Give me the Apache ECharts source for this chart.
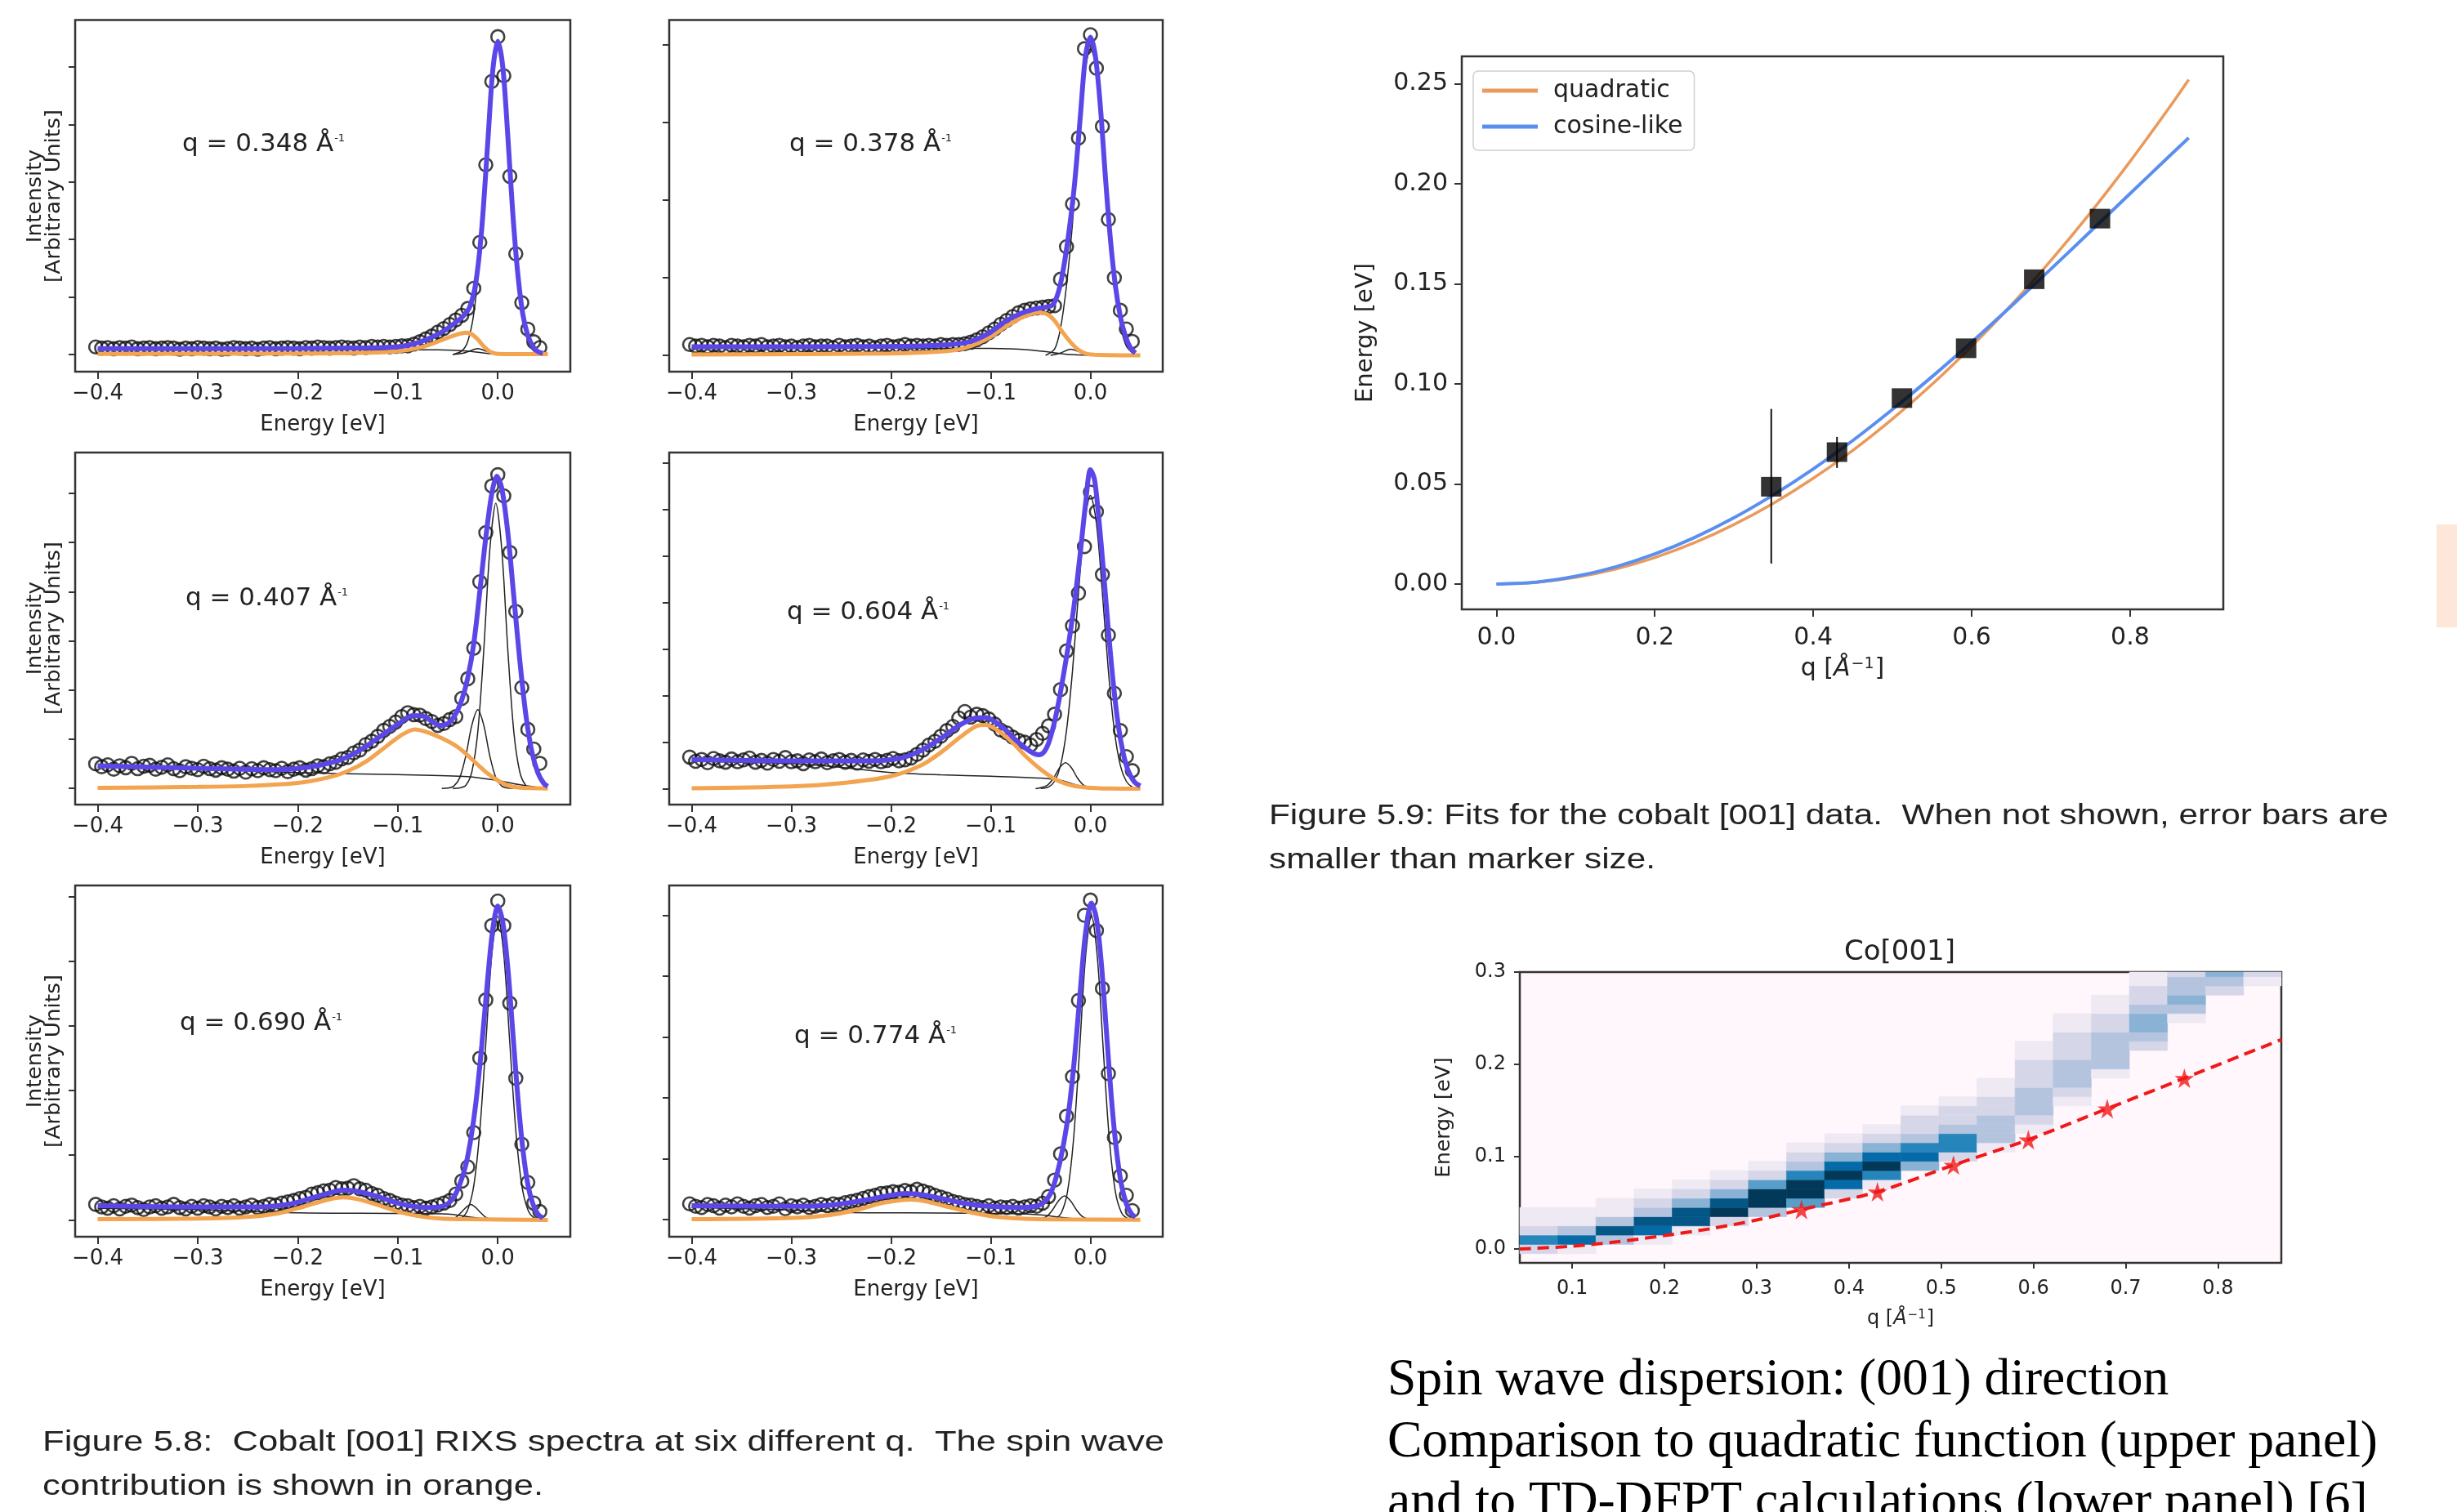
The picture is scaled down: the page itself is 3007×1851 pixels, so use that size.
<!DOCTYPE html>
<html>
<head>
<meta charset="utf-8">
<script src="https://cdn.jsdelivr.net/npm/echarts@6/dist/echarts.min.js"></script>
<style>
  html, body { margin: 0; background: #fff; }
  #chart { width: 3007px; height: 1851px; }
</style>
</head>
<body>
<div id="chart"></div>
<script>
// ---- Fig 5.8: RIXS spectra, six q values ----
const qLabels = ['0.348', '0.378', '0.407', '0.604', '0.690', '0.774']
const energyTicks = [-0.4, -0.3, -0.2, -0.1, 0.0]
// measured points are sampled every 6 meV starting at -0.402 eV
const ptStart = -0.402
const ptStep = 0.006
const yBottom = [-3.0, -2.1, -3.3, -3.4, -2.6, -2.8]
const yTop = [58.2, 43.2, 68.3, 72.2, 51.7, 54.9]
const yTicks = [
  [0, 10, 20, 30, 40, 50],
  [0, 10, 20, 30, 40],
  [0, 10, 20, 30, 40, 50, 60],
  [0, 10, 20, 30, 40, 50, 60, 70],
  [0, 10, 20, 30, 40, 50],
  [0, 10, 20, 30, 40, 50]
]

const points = [
  [1.3,1.1,1.2,1.0,1.2,1.1,1.3,1.0,1.1,1.2, 1.0,1.1,1.2,1.1,0.9,1.1,1.0,1.2,1.1,1.0,
   1.1,0.9,1.0,1.2,1.1,1.0,1.1,0.9,1.1,1.2, 1.0,1.1,1.2,1.1,1.0,1.2,1.1,1.3,1.2,1.1,
   1.2,1.3,1.2,1.1,1.3,1.2,1.4,1.3,1.4,1.3, 1.4,1.5,
   1.5,1.8,2.2,2.7,3.2,3.9,4.5,5.2,6.0,6.8,8.0,11.5,19.5,33,47.5,55.3,48.5,31,17.5,9,4.4,2.2,1.2],
  [1.4,1.2,1.3,1.1,1.3,1.2,1.0,1.3,1.2,1.1, 1.3,1.2,1.4,1.1,1.2,1.3,1.1,1.2,1.0,1.2,
   1.3,1.1,1.2,1.2,1.0,1.3,1.1,1.2,1.3,1.1, 1.2,1.0,1.2,1.3,1.1,1.2,1.4,1.2,1.3,1.2,
   1.3,1.2,1.4,1.3,1.4,
   1.4,1.5,1.7,2.0,2.4,2.9,3.4,4.0,4.5,5.0,5.5,5.8,6.0,6.1,6.2,6.3,6.4,9.8,14.0,19.5,28,39.5,41.3,37,29.5,17.5,10,5.8,3.4,1.8],
  [5.0,4.4,4.8,3.9,4.6,4.2,5.1,4.0,4.5,4.7, 3.9,4.3,4.8,4.0,3.6,4.4,4.1,3.8,4.5,4.0,
   3.7,4.2,3.9,3.5,4.1,3.3,4.0,3.6,4.2,3.8, 3.6,4.1,3.4,3.9,4.2,3.7,4.0,
   4.6,4.4,5.0,5.3,6.0,6.3,7.2,7.8,8.9,9.6,10.6,11.8,12.6,13.5,14.6,15.4,15.0,14.9,14.2,13.6,12.8,13.2,14.0,14.6,
   18.3,22.3,28.5,42,52,61.5,63.8,59.5,48,36,20.5,12.0,8.0,5.1],
  [6.8,5.9,6.3,5.6,6.5,6.0,5.7,6.4,5.8,6.2, 6.6,5.7,6.1,5.5,6.3,5.9,6.7,5.8,6.0,5.4,
   6.2,5.8,6.4,5.6,6.0,6.3,5.7,6.1,5.5,6.2, 5.9,6.3,5.8,6.1,6.5,6.0,6.2,6.6,
   7.4,8.3,9.4,10.2,11.3,12.5,13.4,15.2,16.6,15.4,16.0,15.7,15.0,13.9,12.6,12.0,11.1,10.4,10.0,9.4,10.6,11.9,13.5,
   16.0,21.3,29.6,35,42,52,63.7,59.5,46.0,33.0,20.5,12.5,6.9,3.9],
  [2.4,2.0,1.8,2.2,1.7,2.1,2.3,1.9,1.6,2.0, 2.2,1.8,2.0,2.4,1.9,1.7,2.1,1.8,2.2,2.0,
   1.7,2.1,1.9,2.2,1.8,2.0,2.3,1.9,2.1,
   2.4,2.3,2.6,2.8,3.0,3.3,3.5,4.0,4.2,4.5,4.6,5.0,4.8,4.9,5.3,4.8,4.6,4.1,3.8,3.3,3.0,2.6,2.3,2.2,1.9,2.1,1.8,2.0,2.3,2.6,3.0,4.0,
   6.0,8.2,13.5,25,34,45.5,49.3,45.5,33.5,21.9,11.7,5.8,2.6,1.3],
  [2.6,2.2,2.0,2.5,2.3,1.9,2.4,2.1,2.6,2.2, 1.9,2.3,2.5,2.0,2.2,2.6,1.8,2.3,2.1,2.4,
   2.0,2.2,2.5,
   2.3,2.6,2.5,2.8,3.0,3.2,3.5,3.8,4.0,4.3,4.4,4.6,4.5,4.8,4.6,5.0,4.7,4.4,4.0,3.7,3.4,3.0,2.8,2.5,2.4,2.2,2.0,2.3,1.9,2.1,2.0,2.2,1.9,2.1,2.3,2.2,2.7,3.8,
   6.5,10.8,17,23.5,36,50,52.5,47.5,38,24,13.5,7.2,4.0,1.5]
]

// total fit (violet)
const fitCurves = [
  [[-0.4,1.0],[-0.2,1.05],[-0.13,1.15],[-0.1,1.35],[-0.085,1.8],[-0.07,2.7],[-0.055,4.0],[-0.045,5.2],[-0.035,6.6],[-0.028,8.3],[-0.022,12.5],[-0.016,22],[-0.01,37],[-0.005,49.5],[0,54.5],[0.005,50],[0.01,38],[0.015,24.5],[0.02,14],[0.025,7],[0.03,3.3],[0.035,1.4],[0.04,0.5],[0.045,0.2]],
  [[-0.4,1.1],[-0.2,1.15],[-0.14,1.4],[-0.12,1.8],[-0.1,3.0],[-0.085,4.4],[-0.07,5.4],[-0.055,6.0],[-0.045,6.2],[-0.038,6.5],[-0.033,7.8],[-0.028,10.5],[-0.022,15.5],[-0.016,22],[-0.01,31],[-0.005,38.5],[0,41],[0.005,38.5],[0.01,32],[0.015,23],[0.02,15],[0.025,9],[0.03,5],[0.035,2.5],[0.04,1.0],[0.045,0.3]],
  [[-0.4,4.6],[-0.3,4.1],[-0.22,3.8],[-0.19,4.3],[-0.16,5.6],[-0.14,7.5],[-0.12,10.2],[-0.1,13.0],[-0.085,14.8],[-0.075,14.7],[-0.065,13.5],[-0.058,12.8],[-0.05,13.2],[-0.043,14.8],[-0.036,18],[-0.03,22.5],[-0.024,29.5],[-0.018,40],[-0.012,51],[-0.006,60],[-0.001,63.5],[0.004,61],[0.01,52],[0.016,39],[0.022,26],[0.028,15],[0.034,7.5],[0.04,3.2],[0.046,1.0],[0.05,0.4]],
  [[-0.4,6.3],[-0.3,6.0],[-0.22,6.0],[-0.19,6.6],[-0.17,8.2],[-0.15,10.8],[-0.13,13.8],[-0.115,15.2],[-0.105,15.3],[-0.095,14.3],[-0.085,12.6],[-0.075,10.5],[-0.065,8.7],[-0.057,7.6],[-0.052,7.3],[-0.047,7.8],[-0.042,9.8],[-0.037,13.5],[-0.032,18.5],[-0.027,24.5],[-0.022,31],[-0.016,40],[-0.01,51],[-0.005,61],[0,68.5],[0.004,66.5],[0.008,59],[0.013,47],[0.018,34],[0.023,22.5],[0.028,13.5],[0.033,7.5],[0.038,3.8],[0.044,1.5],[0.05,0.6]],
  [[-0.4,2.2],[-0.3,2.0],[-0.24,2.0],[-0.21,2.4],[-0.19,3.2],[-0.17,4.1],[-0.155,4.6],[-0.14,4.4],[-0.12,3.6],[-0.1,2.6],[-0.085,2.1],[-0.07,1.9],[-0.058,2.0],[-0.05,2.5],[-0.044,3.5],[-0.038,5.5],[-0.032,8.5],[-0.027,12.5],[-0.022,18],[-0.016,27],[-0.01,37.5],[-0.005,45],[0,48.5],[0.005,46],[0.01,39],[0.015,29],[0.02,19],[0.025,11],[0.03,5.5],[0.035,2.5],[0.04,0.9],[0.045,0.3]],
  [[-0.4,2.3],[-0.3,2.2],[-0.26,2.4],[-0.23,3.1],[-0.2,4.0],[-0.185,4.3],[-0.17,4.1],[-0.15,3.5],[-0.13,2.8],[-0.11,2.3],[-0.09,2.1],[-0.07,2.0],[-0.055,2.2],[-0.047,2.8],[-0.04,4.3],[-0.034,7.2],[-0.028,11.5],[-0.022,17.5],[-0.016,26.5],[-0.01,38],[-0.005,47],[0.001,52],[0.006,49.5],[0.011,42],[0.016,31],[0.021,20],[0.026,11.5],[0.031,5.8],[0.036,2.6],[0.041,1.0],[0.045,0.4]]
]

// spin wave contribution (orange)
const spinCurves = [
  [[-0.4,0.1],[-0.2,0.15],[-0.13,0.3],[-0.1,0.55],[-0.08,1.1],[-0.065,1.9],[-0.05,2.9],[-0.04,3.5],[-0.032,3.8],[-0.026,3.5],[-0.02,2.6],[-0.014,1.4],[-0.008,0.5],[0,0.1],[0.05,0.05]],
  [[-0.4,0.1],[-0.2,0.25],[-0.14,0.6],[-0.12,1.2],[-0.1,2.4],[-0.085,3.7],[-0.07,4.8],[-0.058,5.4],[-0.05,5.5],[-0.042,5.2],[-0.035,4.3],[-0.028,3.0],[-0.02,1.7],[-0.012,0.7],[-0.004,0.2],[0.01,0.05],[0.05,0]],
  [[-0.4,0.1],[-0.3,0.3],[-0.25,0.5],[-0.2,1.1],[-0.17,2.2],[-0.15,3.5],[-0.13,5.7],[-0.11,8.8],[-0.095,11.0],[-0.083,12.0],[-0.07,11.4],[-0.055,10.1],[-0.04,8.4],[-0.03,6.7],[-0.02,4.8],[-0.01,3.0],[0,1.6],[0.01,0.6],[0.02,0.2],[0.05,0]],
  [[-0.4,0.1],[-0.3,0.5],[-0.25,1.2],[-0.2,2.7],[-0.17,5.0],[-0.15,7.8],[-0.13,11.2],[-0.115,13.4],[-0.105,13.7],[-0.095,12.8],[-0.08,10.3],[-0.065,7.0],[-0.05,4.2],[-0.035,2.0],[-0.02,0.8],[-0.005,0.3],[0.02,0.05],[0.05,0]],
  [[-0.4,0.1],[-0.3,0.2],[-0.25,0.45],[-0.22,1.0],[-0.2,1.8],[-0.18,2.7],[-0.165,3.3],[-0.155,3.5],[-0.14,3.2],[-0.12,2.3],[-0.1,1.3],[-0.08,0.6],[-0.06,0.25],[-0.03,0.1],[0.05,0]],
  [[-0.4,0.1],[-0.3,0.3],[-0.26,0.8],[-0.23,1.8],[-0.21,2.7],[-0.19,3.2],[-0.18,3.3],[-0.165,3.0],[-0.145,2.2],[-0.12,1.2],[-0.1,0.6],[-0.07,0.2],[-0.03,0.05],[0.05,0]]
]

// elastic line, low-energy peak and background (thin black)
const elasticCurves = [
  [[-0.045,0],[-0.036,0.6],[-0.03,2.3],[-0.024,7.1],[-0.018,17.3],[-0.012,32.8],[-0.006,48],[0,54.5],[0.006,48],[0.012,32.8],[0.018,17.3],[0.024,7.1],[0.03,2.3],[0.036,0.6],[0.045,0]],
  [[-0.045,0],[-0.036,0.8],[-0.03,3.5],[-0.024,9],[-0.018,17],[-0.012,27],[-0.006,36],[0,39.5],[0.006,37],[0.012,29],[0.018,18],[0.024,9.5],[0.03,4],[0.036,1.2],[0.045,0]],
  [[-0.045,0],[-0.038,0.1],[-0.032,0.6],[-0.026,3.3],[-0.02,11.5],[-0.014,28.2],[-0.008,48.5],[-0.002,58],[0.004,48.5],[0.01,28.2],[0.016,11.5],[0.022,3.3],[0.028,0.6],[0.034,0.1],[0.04,0]],
  [[-0.05,0.05],[-0.042,0.4],[-0.036,1.6],[-0.03,5.0],[-0.024,12.5],[-0.018,25.3],[-0.012,42],[-0.006,57],[0,63],[0.006,57],[0.012,42],[0.018,25.3],[0.024,12.5],[0.03,5.0],[0.036,1.6],[0.042,0.4],[0.05,0.05]],
  [[-0.045,0.02],[-0.036,0.35],[-0.03,1.6],[-0.024,5.3],[-0.018,13.8],[-0.012,27.3],[-0.006,41],[0,47],[0.006,41],[0.012,27.3],[0.018,13.8],[0.024,5.3],[0.03,1.6],[0.036,0.35],[0.045,0.02]],
  [[-0.045,0],[-0.035,0.24],[-0.029,1.2],[-0.023,4.6],[-0.017,13.1],[-0.011,27.6],[-0.005,43],[0.001,50],[0.007,43],[0.013,27.6],[0.019,13.1],[0.025,4.6],[0.031,1.2],[0.037,0.24],[0.045,0]]
]
const lowPeaks = [
  [[-0.045,0],[-0.035,0.2],[-0.028,0.6],[-0.02,1.0],[-0.012,0.6],[-0.005,0.2],[0.005,0]],
  [[-0.04,0],[-0.03,0.3],[-0.02,0.8],[-0.012,0.5],[-0.004,0.1],[0.005,0]],
  [[-0.056,0],[-0.05,0.06],[-0.044,0.45],[-0.038,2.2],[-0.032,6.6],[-0.026,12.8],[-0.02,16],[-0.014,12.8],[-0.008,6.6],[-0.002,2.2],[0.004,0.45],[0.01,0.06],[0.016,0]],
  [[-0.055,0.04],[-0.049,0.3],[-0.043,0.8],[-0.037,2.3],[-0.031,4.5],[-0.025,5.6],[-0.019,4.5],[-0.013,2.3],[-0.007,0.8],[-0.001,0.3],[0.005,0.04]],
  [[-0.05,0.04],[-0.043,0.3],[-0.037,1.1],[-0.032,1.9],[-0.027,2.4],[-0.022,1.9],[-0.017,1.1],[-0.011,0.3],[-0.004,0.04]],
  [[-0.056,0.02],[-0.05,0.1],[-0.044,0.5],[-0.038,1.6],[-0.032,3.1],[-0.026,3.9],[-0.02,3.1],[-0.014,1.6],[-0.008,0.5],[-0.002,0.1],[0.004,0.02]]
]
const bgCurves = [
  [[-0.4,0.85],[-0.06,0.8],[-0.03,0.6],[-0.01,0.15],[0,0]],
  [[-0.4,0.95],[-0.1,0.9],[-0.06,0.7],[-0.04,0.4],[-0.02,0.1],[0,0]],
  [[-0.4,4.3],[-0.3,4.0],[-0.2,3.2],[-0.1,2.8],[-0.03,2.4],[0,1.6],[0.02,0.8],[0.04,0.2]],
  [[-0.4,5.9],[-0.3,5.4],[-0.25,4.6],[-0.2,3.5],[-0.15,3.0],[-0.1,2.7],[-0.05,2.3],[-0.03,1.8],[-0.01,0.6],[0.01,0.1],[0.04,0]],
  [[-0.4,1.8],[-0.3,1.6],[-0.2,1.1],[-0.1,1.0],[-0.05,0.9],[-0.03,0.5],[-0.01,0.1],[0.01,0]],
  [[-0.4,2.0],[-0.3,1.6],[-0.25,1.2],[-0.15,1.1],[-0.08,1.0],[-0.05,0.8],[-0.03,0.4],[-0.01,0.1],[0.01,0]]
]

// ---- Fig 5.9: dispersion with fits ----
const dispQ = [0, 0.05, 0.1, 0.15, 0.2, 0.25, 0.3, 0.35, 0.4, 0.45, 0.5, 0.55, 0.6, 0.65, 0.7, 0.75, 0.8, 0.85, 0.874]
const quadE = [0, 0.0008, 0.0033, 0.0074, 0.0132, 0.0206, 0.0297, 0.0404, 0.0528, 0.0668, 0.0825, 0.0998, 0.1188, 0.1394, 0.1617, 0.1856, 0.2112, 0.2384, 0.2521]
const cosE = [0, 0.0009, 0.0038, 0.0085, 0.0150, 0.0232, 0.0331, 0.0446, 0.0575, 0.0717, 0.0872, 0.1036, 0.1209, 0.1389, 0.1574, 0.1762, 0.1951, 0.2140, 0.2230]
const markQ = [0.347, 0.430, 0.512, 0.593, 0.679, 0.762]
const markE = [0.0486, 0.0659, 0.0929, 0.1178, 0.1523, 0.1826]
const errLo = [0.0102, 0.058, null, null, null, null]
const errHi = [0.0875, 0.0735, null, null, null, null]
const dispQTicks = [0, 0.2, 0.4, 0.6, 0.8]
const dispETicks = [0, 0.05, 0.1, 0.15, 0.2, 0.25]

// ---- Co[001] map vs TD-DFPT ----
const heatEdges = [0.0432, 0.0845, 0.1258, 0.1671, 0.2084, 0.2497, 0.2910, 0.3323, 0.3736, 0.4149, 0.4562,
  0.4975, 0.5388, 0.5801, 0.6214, 0.6627, 0.7040, 0.7453, 0.7866, 0.8279, 0.8692]
const heatStep = 0.01
const heatFrom = [0.00, 0.00, 0.01, 0.01, 0.02, 0.03, 0.04, 0.05, 0.06, 0.07, 0.09, 0.10, 0.11, 0.13, 0.16, 0.19, 0.22, 0.25, 0.28, 0.29]
const heatLevels = ['26211', '17311', '38311', '178321', '188421', '298421', '399521', '5996321', '2797421', '1697421',
  '4763221', '2663221', '13332211', '1233322211', '1233322211', '133332211', '234432211', '134332', '234', '12']
const tdQ = [0.043, 0.1, 0.15, 0.2, 0.25, 0.3, 0.3485, 0.4309, 0.5133, 0.5945, 0.68, 0.7636, 0.869]
const tdE = [0.0, 0.003, 0.008, 0.0146, 0.022, 0.0314, 0.0427, 0.062, 0.0909, 0.1184, 0.152, 0.185, 0.227]
const starQ = [0.3485, 0.4309, 0.5133, 0.5945, 0.68, 0.7636]
const starE = [0.0427, 0.062, 0.0909, 0.1184, 0.152, 0.185]
const heatQTicks = [0.1, 0.2, 0.3, 0.4, 0.5, 0.6, 0.7, 0.8]
const heatETicks = [0, 0.1, 0.2, 0.3]

// ---------------------------------------------------------------
const SANS = 'DejaVu Sans'
const INK = '#222'
const VIOLET = '#5b47e8'
const ORANGE = '#f2a450'
const STAR = 'path://M50,0 L61,35 L98,35 L68,57 L79,91 L50,70 L21,91 L32,57 L2,35 L39,35 Z'

const fmt = (v, d) => v.toFixed(d).replace('-', '\u2212')

const chart = echarts.init(document.getElementById('chart'))

// panel rectangles (px)
const panelRects = [
  [92, 24.5, 606, 430.5], [819, 24.5, 604, 430.5],
  [92, 554, 606, 431], [819, 554, 604, 431],
  [92, 1084, 606, 430], [819, 1084, 604, 430]
]
const frame = { show: true, borderColor: '#333', borderWidth: 2.5, backgroundColor: '#fff', outerBoundsMode: 'none' }

const grids = panelRects.map(r => ({ left: r[0], top: r[1], width: r[2], height: r[3], ...frame }))
grids.push({ left: 1789, top: 69, width: 932, height: 677, ...frame })
grids.push({ left: 1860, top: 1190, width: 932, height: 356, ...frame, backgroundColor: '#fff7fb' })

const tickStyle = { color: '#333', width: 2 }
const noLine = { show: false, onZero: false }
const xAxes = []
const yAxes = []
for (let k = 0; k < 6; k++) {
  xAxes.push({
    type: 'value', gridIndex: k, min: -0.4225, max: 0.0725,
    axisLine: noLine, splitLine: { show: false },
    axisTick: { show: true, length: 9, customValues: energyTicks, lineStyle: tickStyle },
    axisLabel: { customValues: energyTicks, formatter: v => fmt(v, 1), fontSize: 26, fontFamily: SANS, color: INK, margin: 14 },
    name: 'Energy [eV]', nameLocation: 'middle', nameGap: 52,
    nameTextStyle: { fontSize: 26, fontFamily: SANS, color: INK }
  })
  yAxes.push({
    type: 'value', gridIndex: k, min: yBottom[k], max: yTop[k],
    axisLine: noLine, splitLine: { show: false },
    axisLabel: { show: false },
    axisTick: { show: true, length: 8, customValues: yTicks[k], lineStyle: tickStyle }
  })
}
const qName = size => ({
  name: '{a|q [}{i|Å}{s|\u22121}{a|]}',
  nameTextStyle: {
    rich: {
      a: { fontSize: size, fontFamily: SANS, color: INK },
      i: { fontSize: size, fontFamily: SANS, fontStyle: 'italic', color: INK },
      s: { fontSize: Math.round(size * 0.62), fontFamily: SANS, color: INK, verticalAlign: 'top', padding: [0, 1, 0, 1] }
    }
  }
})
// dispersion axes
xAxes.push({
  type: 'value', gridIndex: 6, min: -0.0437, max: 0.9177,
  axisLine: noLine, splitLine: { show: false },
  axisTick: { show: true, length: 9, customValues: dispQTicks, lineStyle: tickStyle },
  axisLabel: { customValues: dispQTicks, formatter: v => fmt(v, 1), fontSize: 30, fontFamily: SANS, color: INK, margin: 20 },
  nameLocation: 'middle', nameGap: 58, ...qName(30)
})
yAxes.push({
  type: 'value', gridIndex: 6, min: -0.0127, max: 0.2637,
  axisLine: noLine, splitLine: { show: false },
  axisTick: { show: true, length: 9, customValues: dispETicks, lineStyle: tickStyle },
  axisLabel: { customValues: dispETicks, formatter: v => fmt(v, 2), fontSize: 30, fontFamily: SANS, color: INK, margin: 17 },
  name: 'Energy [eV]', nameLocation: 'middle', nameGap: 103,
  nameTextStyle: { fontSize: 29, fontFamily: SANS, color: INK }
})
// heat map axes
xAxes.push({
  type: 'value', gridIndex: 7, min: 0.0432, max: 0.8687,
  axisLine: noLine, splitLine: { show: false },
  axisTick: { show: true, length: 7, customValues: heatQTicks, lineStyle: tickStyle },
  axisLabel: { customValues: heatQTicks, formatter: v => fmt(v, 1), fontSize: 24, fontFamily: SANS, color: INK, margin: 20 },
  nameLocation: 'middle', nameGap: 57, ...qName(24)
})
yAxes.push({
  type: 'value', gridIndex: 7, min: -0.015, max: 0.3,
  axisLine: noLine, splitLine: { show: false },
  axisTick: { show: true, length: 7, customValues: heatETicks, lineStyle: tickStyle },
  axisLabel: { customValues: heatETicks, formatter: v => fmt(v, 1), fontSize: 24, fontFamily: SANS, color: INK, margin: 17 },
  name: 'Energy [eV]', nameLocation: 'middle', nameGap: 80,
  nameTextStyle: { fontSize: 25, fontFamily: SANS, color: INK }
})

// ---------------- series ----------------
const series = []
const curve = (k, data, color, width, z, name) => ({
  type: 'line', name, xAxisIndex: k, yAxisIndex: k, data, symbol: 'none', showSymbol: false,
  smooth: 0.3, lineStyle: { color, width }, itemStyle: { color }, z, silent: true
})
for (let k = 0; k < 6; k++) {
  series.push({
    type: 'scatter', xAxisIndex: k, yAxisIndex: k, symbol: 'circle', symbolSize: 16, z: 2, silent: true,
    itemStyle: { color: 'rgba(0,0,0,0)', borderColor: '#111', borderWidth: 2.6 },
    data: points[k].map((v, i) => [ptStart + ptStep * i, v])
  })
  series.push(curve(k, bgCurves[k], '#222', 1.5, 3))
  series.push(curve(k, lowPeaks[k], '#222', 1.5, 3))
  series.push(curve(k, elasticCurves[k], '#222', 1.5, 3))
  series.push(curve(k, spinCurves[k], ORANGE, 5, 4))
  series.push(curve(k, fitCurves[k], VIOLET, 6, 5))
}

// dispersion
series.push(curve(6, dispQ.map((q, i) => [q, quadE[i]]), '#e99a5c', 3.5, 3, 'quadratic'))
series.push(curve(6, dispQ.map((q, i) => [q, cosE[i]]), '#5a8ff0', 4, 4, 'cosine-like'))
series.push({
  type: 'custom', xAxisIndex: 6, yAxisIndex: 6, z: 5, silent: true,
  data: markQ.map((q, i) => [q, errLo[i], errHi[i]]).filter(d => d[1] !== null),
  renderItem: (params, api) => {
    const a = api.coord([api.value(0), api.value(1)])
    const b = api.coord([api.value(0), api.value(2)])
    return { type: 'line', shape: { x1: a[0], y1: a[1], x2: b[0], y2: b[1] }, style: { stroke: '#111', lineWidth: 2 } }
  }
})
series.push({
  type: 'scatter', xAxisIndex: 6, yAxisIndex: 6, symbol: 'rect', symbolSize: [25, 24], z: 6, silent: true,
  itemStyle: { color: '#000' },
  data: markQ.map((q, i) => [q, markE[i]])
})

// heat map cells
const heatCells = []
heatLevels.forEach((col, j) => {
  for (let k = 0; k < col.length; k++) {
    const level = +col[k]
    if (level > 0) heatCells.push([heatEdges[j], heatEdges[j + 1], heatFrom[j] + heatStep * k, level])
  }
})
const heatIndex = series.length
series.push({
  type: 'custom', xAxisIndex: 7, yAxisIndex: 7, z: 2, silent: true,
  data: heatCells,
  renderItem: (params, api) => {
    const tl = api.coord([api.value(0), api.value(2) + heatStep / 2])
    const br = api.coord([api.value(1), api.value(2) - heatStep / 2])
    const cs = params.coordSys
    const rect = echarts.graphic.clipRectByRect(
      { x: tl[0], y: tl[1], width: br[0] - tl[0], height: br[1] - tl[1] },
      { x: cs.x, y: cs.y, width: cs.width, height: cs.height })
    if (!rect) return
    const c = api.visual('color')
    return { type: 'rect', shape: rect, style: { fill: c, stroke: c, lineWidth: 0.6 } }
  }
})
series.push({
  type: 'line', xAxisIndex: 7, yAxisIndex: 7, z: 4, silent: true, symbol: 'none', smooth: 0.3,
  lineStyle: { color: '#f01818', width: 4, type: [14, 8] },
  data: tdQ.map((q, i) => [q, tdE[i]])
})
series.push({
  type: 'scatter', xAxisIndex: 7, yAxisIndex: 7, z: 5, silent: true, symbol: STAR, symbolSize: 24,
  itemStyle: { color: '#f01818' },
  data: starQ.map((q, i) => [q, starE[i]])
})

// ---------------- text ----------------
const measure = (text, font) => {
  const ctx = document.createElement('canvas').getContext('2d')
  ctx.font = font
  return ctx.measureText(text).width
}
const txt = (x, y, text, size, family, opts = {}) => ({
  type: 'text', x, y, silent: true, z: 50,
  scaleX: opts.scaleX || 1, rotation: opts.rotation || 0,
  style: {
    text, fontSize: size, fontFamily: family, fill: opts.fill || INK,
    textAlign: opts.align || 'left', align: opts.align || 'left',
    textVerticalAlign: 'middle', verticalAlign: 'middle',
    lineHeight: opts.lineHeight, rich: opts.rich
  }
})

const graphic = []
const qPos = [[223, 177], [966, 177], [227, 733], [963, 750], [220, 1253], [972, 1269]]
qLabels.forEach((q, k) => {
  graphic.push(txt(qPos[k][0], qPos[k][1], `{a|q = ${q} Å}{b|-1}`, 31, SANS, {
    rich: {
      a: { fontSize: 31, fontFamily: SANS, color: INK },
      b: { fontSize: 13, fontFamily: SANS, color: INK, verticalAlign: 'top', padding: [2, 0, 0, 1] }
    }
  }))
})
;[[55, 240], [55, 769], [55, 1299]].forEach(p => {
  graphic.push(txt(p[0], p[1], 'Intensity\n[Arbitrary Units]', 25, SANS,
    { rotation: Math.PI / 2, align: 'center', lineHeight: 23, scaleX: 1.05 }))
})
graphic.push(txt(2325, 1166, 'Co[001]', 34, SANS, { align: 'center' }))

const capFont = 'Liberation Sans'
const cap1 = 'Figure 5.8:  Cobalt [001] RIXS spectra at six different q.  The spin wave'
const s1 = 1373 / measure(cap1, `35px "${capFont}"`)
graphic.push(txt(52, 1766, cap1, 35, capFont, { scaleX: s1 }))
graphic.push(txt(52, 1820, 'contribution is shown in orange.', 35, capFont, { scaleX: s1 }))
const cap2 = 'Figure 5.9: Fits for the cobalt [001] data.  When not shown, error bars are'
const s2 = 1370 / measure(cap2, `35px "${capFont}"`)
graphic.push(txt(1553, 999, cap2, 35, capFont, { scaleX: s2 }))
graphic.push(txt(1553, 1053, 'smaller than marker size.', 35, capFont, { scaleX: s2 }))

const serif = 'Liberation Serif'
const sl2 = 'Comparison to quadratic function (upper panel)'
const s3 = 1212 / measure(sl2, `63px "${serif}"`)
graphic.push(txt(1698, 1690, 'Spin wave dispersion: (001) direction', 63, serif, { scaleX: s3, fill: '#000' }))
graphic.push(txt(1698, 1766, sl2, 63, serif, { scaleX: s3, fill: '#000' }))
graphic.push(txt(1698, 1840, 'and to TD-DFPT calculations (lower panel) [6]', 63, serif, { scaleX: s3, fill: '#000' }))
graphic.push({ type: 'rect', silent: true, shape: { x: 2982, y: 642, width: 25, height: 126 }, style: { fill: '#fde7d8' } })

chart.setOption({
  animation: false,
  backgroundColor: '#fff',
  grid: grids,
  xAxis: xAxes,
  yAxis: yAxes,
  legend: {
    data: ['quadratic', 'cosine-like'], left: 1803, top: 87, orient: 'vertical',
    icon: 'rect', itemWidth: 68, itemHeight: 5, itemGap: 14, padding: [9, 14, 14, 11],
    backgroundColor: '#fff', borderColor: '#cfcfcf', borderWidth: 1.5, borderRadius: 6,
    textStyle: { fontSize: 30, fontFamily: SANS, color: INK, padding: [0, 0, 0, 14] },
    selectedMode: false
  },
  visualMap: {
    show: false, type: 'continuous', seriesIndex: heatIndex, dimension: 3, min: 0, max: 9,
    inRange: { color: ['#fff7fb', '#ece7f2', '#d0d1e6', '#a6bddb', '#74a9cf', '#3690c0', '#0570b0', '#045a8d', '#023858'] }
  },
  series,
  graphic
})
</script>
</body>
</html>
